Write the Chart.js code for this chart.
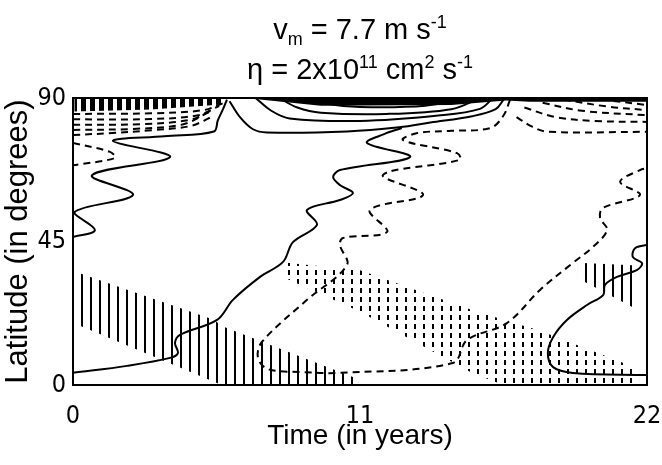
<!DOCTYPE html>
<html>
<head>
<meta charset="utf-8">
<script src="https://cdn.jsdelivr.net/npm/chart.js@4/dist/chart.umd.min.js"></script>
<style>
html, body { margin: 0; padding: 0; background: #fff; }
#wrap { width: 662px; height: 465px; position: relative; }
</style>
</head>
<body>
<div id="wrap"><canvas id="mariposaChart"></canvas></div>
<script>
// ==========================
// DATOS  [tiempo (años), latitud (grados)]
// ==========================

const timeTicks = [0, 11, 22];
const latTicks = [0, 45, 90];

// contornos continuos
const solidDiagonal = [[0, 3.8], [2.07, 6.0], [3.72, 8.5], [4.02, 10.0], [3.91, 13.2], [4.10, 15.7], [5.52, 20.4], [6.13, 26.7], [7.17, 33.9], [8.05, 38.6], [8.43, 44.8], [9.35, 50.2], [8.97, 54.9], [10.23, 58.0], [10.73, 60.2], [10.23, 62.7], [9.97, 65.2], [10.23, 67.4], [12.92, 71.5], [11.27, 75.9], [11.9, 78.6], [12.6, 80.6]];
const solidLeftWave = [[0, 46.4], [0.84, 48.6], [0.05, 54.2], [2.30, 59.6], [0.73, 65.8], [3.72, 71.5], [1.53, 76.5], [3.5, 78.0], [5.4, 79.5], [5.55, 83], [5.75, 86.5], [5.9, 89.5]];
const solidRightLoop = [[22, 43.9], [21.54, 42.9], [21.46, 40.1], [21.81, 38.2], [21.62, 36.1], [20.85, 33.9], [20.39, 31.4], [20.32, 28.2], [19.70, 25.1], [18.93, 20.4], [18.40, 15.0], [18.20, 10.0], [18.40, 5.6], [19.16, 3.8], [22, 3.1]];
const solidTop1 = [[6.0, 89], [6.4, 84], [6.9, 80.2], [7.44, 79.2], [10.5, 79.5], [12.5, 80.8], [13.7, 82.3], [15.3, 84.3], [16.2, 86.5], [16.5, 89.5]];
const solidTop2 = [[7.0, 90], [7.6, 86], [8.3, 83.6], [11, 82.8], [14, 84.5], [15.6, 86.6], [16.1, 90]];
const solidTop3 = [[7.9, 90], [8.6, 87], [9.5, 85.4], [12, 85], [14.5, 86.5], [15.6, 90]];
const solidTop4 = [[9.0, 90], [9.7, 88.2], [11, 87.2], [13.5, 87.6], [15, 90]];

// contornos discontinuos
const dashedMain = [[16.75, 89.4], [16.5, 84.5], [16.0, 80.6], [14.5, 79.7], [13.2, 79.0], [12.65, 76.8], [14.72, 72.7], [14.83, 70.6], [11.88, 65.9], [13.42, 59.6], [11.38, 54.9], [12.04, 48.0], [10.35, 46.1], [10.23, 43.9], [10.50, 37.6], [8.97, 26.7], [7.24, 13.5], [7.09, 8.5], [7.47, 5.0], [8.70, 4.1], [10.23, 3.8], [14.56, 6.9], [15.10, 14.1], [16.63, 19.4], [17.90, 29.8], [19.16, 38.3], [19.93, 43.3], [20.47, 48.6], [20.20, 52.4], [20.31, 55.5], [21.73, 59.6], [20.97, 63.7], [21.73, 67.4], [22, 68.0]];
const dashedLeftLoop = [[0, 75.9], [1.42, 73.1], [1.61, 71.2], [0, 68.9]];
const dashedTopLeft1 = [[0, 85.0], [3, 85.2], [5, 86.2], [5.8, 88.5]];
const dashedTopLeft2 = [[0, 83.3], [3, 83.4], [4.8, 84.6], [5.6, 87.5]];
const dashedTopLeft3 = [[0, 81.6], [2.6, 81.8], [4.5, 83.2], [5.4, 86.5]];
const dashedTopLeft4 = [[0, 80.0], [2.3, 80.3], [4.2, 81.7], [5.2, 85.5]];
const dashedTopLeft5 = [[0, 78.4], [1.5, 79.0], [3, 79.9], [4.5, 81.2], [5.3, 84.0]];
const dashedTopRight1 = [[17.0, 84.0], [17.6, 81.0], [18.2, 79.4], [22, 79.4]];
const dashedTopRight2 = [[17.3, 87.0], [18.5, 84.0], [20, 82.8], [22, 82.5]];
const dashedTopRight3 = [[18.0, 88.5], [19.5, 86.0], [22, 84.6]];
const dashedTopRight4 = [[18.8, 89.5], [20.5, 87.3], [22, 86.2]];
const dashedTopRight5 = [[19.8, 90], [22, 87.8]];

// zonas rayadas: tiempos, borde superior, borde inferior
const hatchLeftT = [0.2, 5.4, 5.7, 10.8];
const hatchLeftTop = [35.2, 20.5, 18.5, 2.3];
const hatchLeftBottom = [18.8, 1.0, 0, 0];

const hatchDotT = [8.0, 11.0, 15.3, 16.5, 17.9, 21.7];
const hatchDotTop = [38.5, 36, 23.5, 20.5, 17, 5];
const hatchDotBottom = [34, 23, 3.8, 0, 0, 0];

const hatchRightT = [19.35, 21.65];
const hatchRightTop = [38.3, 37.5];
const hatchRightBottom = [33.5, 23.5];

const polarBarsT = [0.05, 3, 5.7];
const polarBarsTop = [90, 90, 90];
const polarBarsBottom = [85.8, 86.4, 88.0];

const blackBandT = [6.6, 8, 9.5, 14.5, 16.6, 17.5, 22];
const blackBandTop = [90, 90, 90, 90, 90, 90, 90];
const blackBandBottom = [90, 88.8, 87.6, 87.8, 89.2, 88.8, 88.8];


// ==========================
// ESTILOS
// ==========================

const FUENTE = "'Liberation Sans', Arial, sans-serif";
const FUENTE_TICKS = "'DejaVu Sans Condensed', 'Liberation Sans', sans-serif";

function patron(w, h, dibujar) {
    const c = document.createElement('canvas');
    c.width = w;
    c.height = h;
    const g = c.getContext('2d');
    dibujar(g);
    return g.createPattern(c, 'repeat');
}

const rayasSolidas = patron(9, 4, g => { g.fillStyle = '#000'; g.fillRect(0, 0, 2, 4); });
const rayasPunteadas = patron(9, 9, g => { g.fillStyle = '#000'; g.fillRect(0, 0, 2, 5); });
const barrasPolares = patron(9, 4, g => { g.fillStyle = '#000'; g.fillRect(0, 0, 5, 4); });

const pts = arr => arr.map(p => ({ x: p[0], y: p[1] }));
const zipPts = (ts, ys) => ts.map((t, i) => ({ x: t, y: ys[i] }));

function contorno(arr, discontinuo) {
    return {
        data: pts(arr),
        showLine: true,
        borderColor: '#000',
        borderWidth: 2,
        borderDash: discontinuo ? [7, 5] : [],
        pointRadius: 0,
        tension: 0.35,
        fill: false
    };
}

function zona(ts, top, bottom, fondo) {
    return [
        { data: zipPts(ts, top), showLine: true, borderColor: 'rgba(0,0,0,0)', pointRadius: 0, tension: 0, fill: '+1', backgroundColor: fondo },
        { data: zipPts(ts, bottom), showLine: true, borderColor: 'rgba(0,0,0,0)', pointRadius: 0, tension: 0, fill: false }
    ];
}


// ==========================
// PLUGINS: TITULO Y MARCO
// ==========================

function textoRico(ctx, partes, cx, y, size) {
    const small = size * 0.62;
    let total = 0;
    partes.forEach(p => {
        ctx.font = (p[1] === 0 ? size : small) + 'px ' + FUENTE;
        total += ctx.measureText(p[0]).width;
    });
    let x = cx - total / 2;
    ctx.textBaseline = 'alphabetic';
    ctx.textAlign = 'left';
    ctx.fillStyle = '#000';
    partes.forEach(p => {
        ctx.font = (p[1] === 0 ? size : small) + 'px ' + FUENTE;
        const dy = p[1] === 1 ? -size * 0.38 : (p[1] === -1 ? size * 0.22 : 0);
        ctx.fillText(p[0], x, y + dy);
        x += ctx.measureText(p[0]).width;
    });
}

const tituloPlugin = {
    id: 'tituloFormula',
    afterDraw(chart) {
        const ctx = chart.ctx;
        const a = chart.chartArea;
        const cx = (a.left + a.right) / 2;
        ctx.save();
        textoRico(ctx, [['v', 0], ['m', -1], [' = 7.7 m s', 0], ['-1', 1]], cx, 39, 29);
        textoRico(ctx, [['\u03b7 = 2x10', 0], ['11', 1], [' cm', 0], ['2', 1], [' s', 0], ['-1', 1]], cx, 79, 29);
        ctx.restore();
    }
};

const marcoPlugin = {
    id: 'marco',
    afterDatasetsDraw(chart) {
        const ctx = chart.ctx;
        const a = chart.chartArea;
        ctx.save();
        ctx.strokeStyle = '#000';
        ctx.lineWidth = 2;
        ctx.strokeRect(a.left, a.top, a.right - a.left, a.bottom - a.top);
        ctx.restore();
    }
};


// ==========================
// GRAFICO
// ==========================

const ctxMariposa = document.getElementById('mariposaChart');

new Chart(ctxMariposa, {

    type: 'scatter',

    data: {
        datasets: [
            contorno(solidDiagonal, false),
            contorno(solidLeftWave, false),
            contorno(solidRightLoop, false),
            contorno(solidTop1, false),
            contorno(solidTop2, false),
            contorno(solidTop3, false),
            contorno(solidTop4, false),
            contorno(dashedMain, true),
            contorno(dashedLeftLoop, true),
            contorno(dashedTopLeft1, true),
            contorno(dashedTopLeft2, true),
            contorno(dashedTopLeft3, true),
            contorno(dashedTopLeft4, true),
            contorno(dashedTopLeft5, true),
            contorno(dashedTopRight1, true),
            contorno(dashedTopRight2, true),
            contorno(dashedTopRight3, true),
            contorno(dashedTopRight4, true),
            contorno(dashedTopRight5, true),
            ...zona(hatchLeftT, hatchLeftTop, hatchLeftBottom, rayasSolidas),
            ...zona(hatchDotT, hatchDotTop, hatchDotBottom, rayasPunteadas),
            ...zona(hatchRightT, hatchRightTop, hatchRightBottom, rayasSolidas),
            ...zona(polarBarsT, polarBarsTop, polarBarsBottom, barrasPolares),
            ...zona(blackBandT, blackBandTop, blackBandBottom, '#000')
        ]
    },

    options: {
        responsive: true,
        maintainAspectRatio: false,
        animation: false,
        events: [],
        layout: {
            padding: { top: 98, right: 15, bottom: 0, left: 0 }
        },
        plugins: {
            legend: { display: false },
            tooltip: { enabled: false }
        },
        scales: {
            x: {
                type: 'linear',
                min: 0,
                max: 22,
                afterBuildTicks: s => { s.ticks = timeTicks.map(v => ({ value: v })); },
                afterFit: s => { s.height = 80; s.paddingLeft = 0; s.paddingRight = 0; },
                grid: { display: false, drawTicks: false },
                border: { display: false },
                ticks: {
                    color: '#000',
                    padding: 16,
                    maxRotation: 0,
                    font: { family: FUENTE_TICKS, size: 25 }
                },
                title: {
                    display: true,
                    text: 'Time (in years)',
                    color: '#000',
                    padding: { top: 0, bottom: 12 },
                    font: { family: FUENTE, size: 28 }
                }
            },
            y: {
                type: 'linear',
                min: 0,
                max: 90,
                afterBuildTicks: s => { s.ticks = latTicks.map(v => ({ value: v })); },
                afterFit: s => { s.width = 73; s.paddingTop = 0; s.paddingBottom = 0; },
                grid: { display: false, drawTicks: false },
                border: { display: false },
                ticks: {
                    color: '#000',
                    padding: 7,
                    font: { family: FUENTE_TICKS, size: 25 }
                },
                title: {
                    display: true,
                    text: 'Latitude (in degrees)',
                    color: '#000',
                    padding: { top: 0, bottom: 0 },
                    font: { family: FUENTE, size: 31 }
                }
            }
        }
    },

    plugins: [tituloPlugin, marcoPlugin]

});
</script>
</body>
</html>
